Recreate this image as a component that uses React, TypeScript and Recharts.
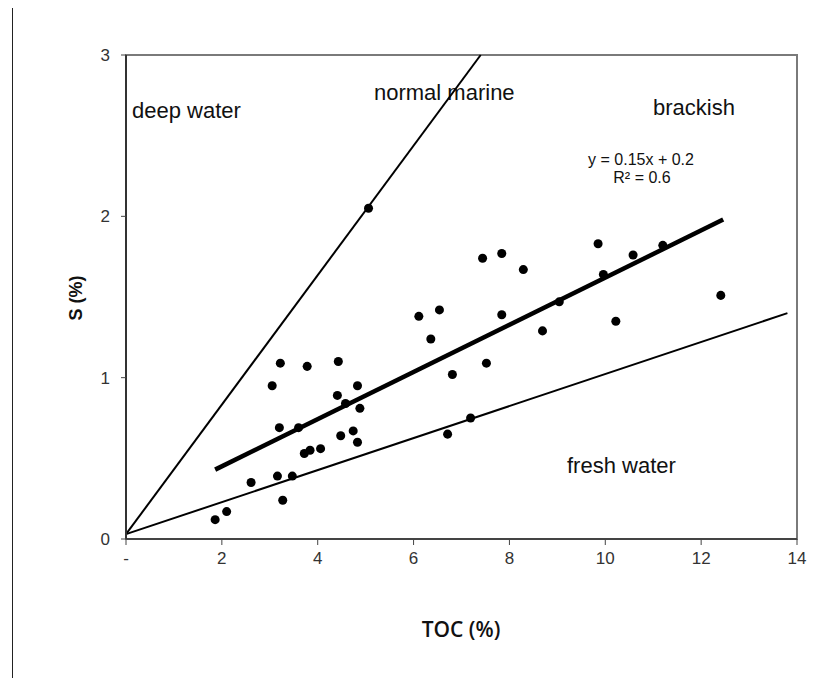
import React from 'react';
import {
  ScatterChart,
  Scatter,
  XAxis,
  YAxis,
  ZAxis,
  ReferenceLine,
  ReferenceArea,
  Customized,
} from 'recharts';

// TOC (%) vs S (%) samples
const tocValues = [
  1.86, 2.1, 2.61, 3.16, 3.27, 3.47, 3.05, 3.22, 3.2, 3.6, 3.78, 3.72, 3.84, 4.06,
  4.43, 4.41, 4.58, 4.83, 4.88, 4.48, 4.74, 4.83, 5.06, 6.11, 6.54, 6.36, 6.81,
  6.71, 7.19, 7.52, 7.44, 7.84, 7.84, 8.29, 8.69, 9.04, 9.85, 9.96, 10.22, 10.58,
  11.2, 12.41,
];
const sValues = [
  0.12, 0.17, 0.35, 0.39, 0.24, 0.39, 0.95, 1.09, 0.69, 0.69, 1.07, 0.53, 0.55, 0.56,
  1.1, 0.89, 0.84, 0.95, 0.81, 0.64, 0.67, 0.6, 2.05, 1.38, 1.42, 1.24, 1.02,
  0.65, 0.75, 1.09, 1.74, 1.77, 1.39, 1.67, 1.29, 1.47, 1.83, 1.64, 1.35, 1.76,
  1.82, 1.51,
];

// boundary lines between environments
const marineLine = [
  { x: 0, y: 0.03 },
  { x: 7.4, y: 3 },
];
const freshLine = [
  { x: 0, y: 0.03 },
  { x: 13.8, y: 1.4 },
];
// linear trend (y = 0.15x + 0.2)
const trendLine = [
  { x: 1.86, y: 0.43 },
  { x: 12.46, y: 1.98 },
];

const xTicks = [0, 2, 4, 6, 8, 10, 12, 14];
const yTicks = [0, 1, 2, 3];

const points = tocValues.map((x, i) => ({ x, y: sValues[i] }));

const font = '"Liberation Sans", Arial, sans-serif';

const Annotations = () => (
  <g fontFamily={font} fill="#111">
    <text x={124} y={110} fontSize={22}>deep water</text>
    <text x={366} y={92} fontSize={22}>normal marine</text>
    <text x={645} y={107} fontSize={22}>brackish</text>
    <text x={559} y={465} fontSize={22}>fresh water</text>
    <text x={633} y={157} fontSize={16} textAnchor="middle">y = 0.15x + 0.2</text>
    <text x={634} y={175} fontSize={16} textAnchor="middle">R² = 0.6</text>
    <text
      x={74}
      y={290}
      fontSize={18}
      fontWeight="bold"
      textAnchor="middle"
      transform="rotate(-90 74 290)"
    >
      S (%)
    </text>
    <text
      x={453}
      y={629}
      fontSize={21}
      fontWeight={600}
      fontFamily='"Open Sans", sans-serif'
      textAnchor="middle"
    >
      TOC (%)
    </text>
  </g>
);

export default function App() {
  return (
    <div style={{ position: 'relative', width: 819, height: 677 }}>
      <div
        style={{
          position: 'absolute',
          left: 4,
          top: -8,
          width: 1,
          height: 678,
          background: '#222',
        }}
      />
      <ScatterChart
        width={819}
        height={677}
        margin={{ top: 47, right: 30, bottom: 116, left: 78 }}
      >
        <ReferenceArea
          x1={0}
          x2={14}
          y1={0}
          y2={3}
          fill="none"
          stroke="#7a7a7a"
          strokeWidth={2}
        />
        <XAxis
          type="number"
          dataKey="x"
          domain={[0, 14]}
          ticks={xTicks}
          height={30}
          tickSize={6}
          tickMargin={7}
          tickFormatter={(v: number) => (v === 0 ? '-' : String(v))}
          tick={{ fill: '#333', fontSize: 17, fontFamily: font }}
          axisLine={{ stroke: '#444', strokeWidth: 2 }}
          tickLine={{ stroke: '#444' }}
        />
        <YAxis
          type="number"
          dataKey="y"
          domain={[0, 3]}
          ticks={yTicks}
          width={40}
          tickSize={5}
          tickMargin={11}
          tick={{ fill: '#333', fontSize: 17, fontFamily: font }}
          axisLine={{ stroke: '#333', strokeWidth: 2 }}
          tickLine={{ stroke: '#444' }}
        />
        <ZAxis range={[80, 80]} />
        <ReferenceLine segment={marineLine} stroke="#000" strokeWidth={2} />
        <ReferenceLine segment={freshLine} stroke="#000" strokeWidth={2} />
        <ReferenceLine segment={trendLine} stroke="#000" strokeWidth={4.5} />
        <Scatter data={points} fill="#000" isAnimationActive={false} />
        <Customized component={Annotations} />
      </ScatterChart>
    </div>
  );
}
